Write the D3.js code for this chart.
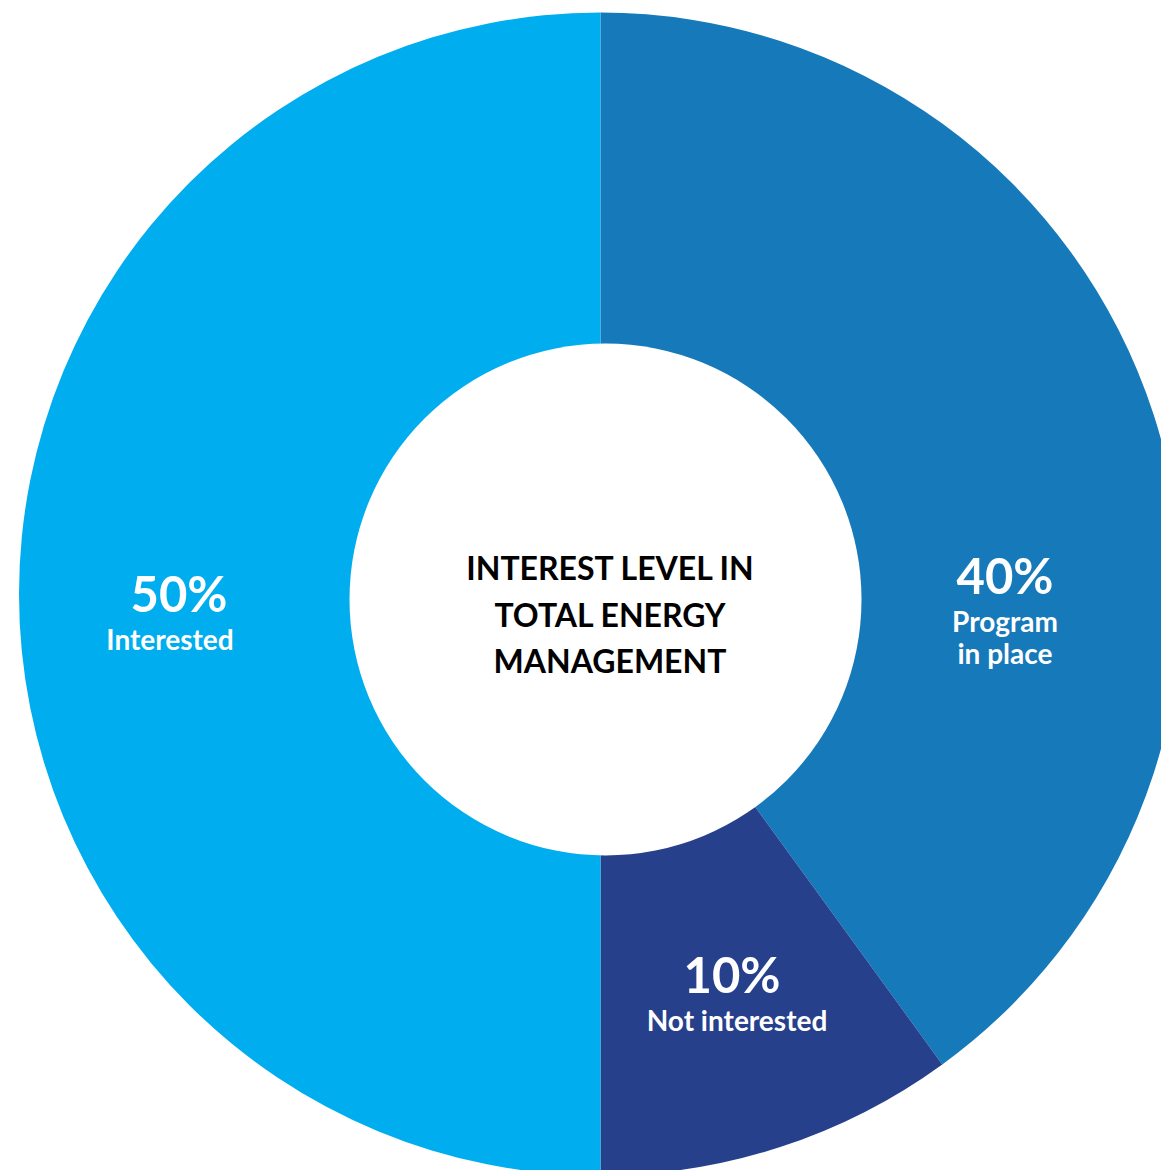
<!DOCTYPE html>
<html>
<head>
<meta charset="utf-8">
<script src="https://cdn.jsdelivr.net/npm/d3@7"></script>
<style>
  html, body { margin: 0; padding: 0; background: #ffffff; overflow: hidden; }
  svg { display: block; }
</style>
</head>
<body>
<svg id="chart" width="1161" height="1170"></svg>
<script>
// ---- data ----
const categories = ["Program in place", "Not interested", "Interested"];
const values = [40, 10, 50];
const labelLines = [["Program", "in place"], ["Not interested"], ["Interested"]];
const colors = ["#1679BA", "#26408C", "#00ADEE"];
const titleLines = ["INTEREST LEVEL IN", "TOTAL ENERGY", "MANAGEMENT"];

// ---- layout ----
const W = 1161, H = 1170;
const cx = 600.5, cy = 594, R = 581.5;
const hole = { x: 605.5, y: 599.5, r: 256 };
// [percent centre x, percent centre y, label centre x]
const labelAnchors = [ [1005, 577, 1005], [732, 976, 737], [179, 595, 170] ];

const svg = d3.select("#chart");
const font = "Lato, 'Open Sans', sans-serif";

const pie = d3.pie().sort(null).value(d => d.value);
const arcs = pie(categories.map((c, i) => ({ name: c, value: values[i], i })));
const arc = d3.arc().innerRadius(235).outerRadius(R);

const g = svg.append("g").attr("transform", `translate(${cx},${cy})`);
g.selectAll("path").data(arcs).join("path")
  .attr("d", arc)
  .attr("fill", d => colors[d.data.i]);

// centre hole
svg.append("circle").attr("cx", hole.x).attr("cy", hole.y).attr("r", hole.r).attr("fill", "#ffffff");

// title
const title = svg.append("text")
  .attr("x", 609).attr("y", 580)
  .attr("text-anchor", "middle")
  .attr("font-family", font).attr("font-weight", 700)
  .attr("font-size", 32).attr("fill", "#000000");
titleLines.forEach((t, k) => {
  title.append("tspan").attr("x", 610).attr("dy", k === 0 ? 0 : 46.5).text(t);
});

// slice labels
const pctFmt = d => d + "%";
arcs.forEach(a => {
  const i = a.data.i;
  const [px, py, lx] = labelAnchors[i];
  const t = svg.append("text")
    .attr("text-anchor", "middle")
    .attr("font-family", font).attr("font-weight", 700)
    .attr("fill", "#ffffff");
  t.append("tspan").attr("x", px).attr("y", py + 17)
    .attr("font-size", 49).text(pctFmt(values[i]));
  labelLines[i].forEach((ln, k) => {
    t.append("tspan").attr("x", lx).attr("y", py + 55 + k * 32)
      .attr("font-size", 28).text(ln);
  });
});
</script>
</body>
</html>
